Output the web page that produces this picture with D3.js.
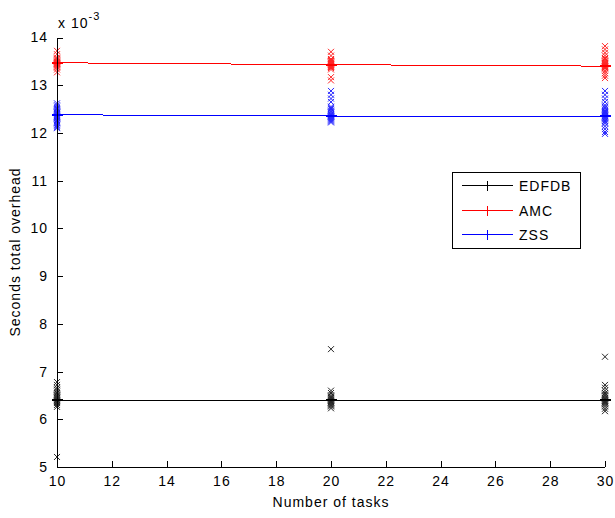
<!DOCTYPE html>
<html><head><meta charset="utf-8">
<script src="https://cdn.jsdelivr.net/npm/d3@7"></script>
<style>
html,body{margin:0;padding:0;background:#fff;}
text{font-family:"Liberation Sans",Arial,sans-serif;fill:#000;}
</style></head>
<body><svg id="chart" width="615" height="518"></svg>
<script>
const tasks = [10, 20, 30];
const seriesNames = ["EDFDB", "AMC", "ZSS"];
const seriesColors = ["#000000", "#ff0000", "#0000ff"];
const meanEDFDB = [6.40, 6.40, 6.40];
const meanAMC = [13.47, 13.43, 13.40];
const meanZSS = [12.38, 12.355, 12.35];
const errEDFDB = [0.01, 0.01, 0.01];
const errAMC = [0.01, 0.01, 0.01];
const errZSS = [0.01, 0.01, 0.01];
const runsEDFDB = [
  [6.78, 6.72, 6.66, 6.62, 6.58, 6.55, 6.52, 6.50, 6.48, 6.46, 6.44, 6.42, 6.40, 6.38, 6.36, 6.34, 6.30, 6.26, 5.21],
  [7.47, 6.60, 6.55, 6.50, 6.47, 6.45, 6.43, 6.41, 6.39, 6.38, 6.36, 6.35, 6.33, 6.31, 6.29, 6.27, 6.23],
  [7.31, 6.72, 6.66, 6.60, 6.55, 6.52, 6.50, 6.48, 6.45, 6.43, 6.41, 6.39, 6.38, 6.36, 6.35, 6.33, 6.31, 6.27, 6.22, 6.17]
];
const runsAMC = [
  [13.72, 13.65, 13.58, 13.56, 13.54, 13.52, 13.50, 13.49, 13.48, 13.47, 13.46, 13.45, 13.44, 13.43, 13.41, 13.39, 13.37, 13.33, 13.27],
  [13.70, 13.62, 13.55, 13.53, 13.51, 13.50, 13.48, 13.47, 13.46, 13.44, 13.43, 13.42, 13.40, 13.39, 13.38, 13.36, 13.33, 13.17, 13.10],
  [13.82, 13.75, 13.68, 13.62, 13.57, 13.55, 13.52, 13.50, 13.48, 13.46, 13.45, 13.43, 13.42, 13.40, 13.39, 13.38, 13.36, 13.35, 13.30, 13.25, 13.20, 13.15]
];
const runsZSS = [
  [12.62, 12.58, 12.55, 12.52, 12.50, 12.47, 12.45, 12.43, 12.42, 12.40, 12.38, 12.36, 12.34, 12.33, 12.31, 12.30, 12.27, 12.25, 12.22, 12.20, 12.17, 12.15, 12.12, 12.10],
  [12.88, 12.80, 12.72, 12.65, 12.55, 12.52, 12.50, 12.47, 12.45, 12.43, 12.40, 12.38, 12.37, 12.35, 12.34, 12.32, 12.30, 12.28, 12.26, 12.24, 12.22],
  [12.88, 12.80, 12.72, 12.65, 12.58, 12.55, 12.52, 12.49, 12.46, 12.44, 12.42, 12.40, 12.38, 12.36, 12.34, 12.32, 12.30, 12.28, 12.25, 12.22, 12.20, 12.14, 12.08, 12.02, 11.98]
];
const xTicks = [10, 12, 14, 16, 18, 20, 22, 24, 26, 28, 30];
const yTicks = [5, 6, 7, 8, 9, 10, 11, 12, 13, 14];
const xLabel = "Number of tasks";
const yLabel = "Seconds total overhead";

const series = [
  {name: seriesNames[0], color: seriesColors[0], mean: meanEDFDB, err: errEDFDB, runs: runsEDFDB},
  {name: seriesNames[1], color: seriesColors[1], mean: meanAMC, err: errAMC, runs: runsAMC},
  {name: seriesNames[2], color: seriesColors[2], mean: meanZSS, err: errZSS, runs: runsZSS}
];

const svg = d3.select("#chart");
const L = 57, R = 605, T = 37.5, B = 467;
const x = d3.scaleLinear().domain([10, 30]).range([L, R]);
const y = d3.scaleLinear().domain([5, 14]).range([B, T]);
const fontCss = "font-size:14px;letter-spacing:1px;";

// markers (individual runs)
series.forEach(s => {
  const g = svg.append("g").attr("stroke", s.color).attr("stroke-width", 1).attr("opacity", 0.85);
  s.runs.forEach((vals, i) => {
    vals.forEach(v => {
      const cx = x(tasks[i]), cy = y(v), r = 3;
      g.append("path").attr("fill", "none")
        .attr("d", `M${cx - r},${cy - r}L${cx + r},${cy + r}M${cx - r},${cy + r}L${cx + r},${cy - r}`);
    });
  });
});

// mean lines with error bars
series.forEach(s => {
  const g = svg.append("g").attr("stroke", s.color).attr("fill", "none").attr("stroke-width", 1)
    .attr("shape-rendering", "crispEdges");
  g.append("path").attr("d", d3.line().x((d, i) => x(tasks[i])).y(d => y(d))(s.mean));
  s.mean.forEach((m, i) => {
    const cx = x(tasks[i]), w = 5.5;
    g.append("line").attr("x1", cx).attr("x2", cx).attr("y1", y(m - s.err[i])).attr("y2", y(m + s.err[i]));
    g.append("line").attr("x1", cx - w).attr("x2", cx + w).attr("y1", y(m - s.err[i])).attr("y2", y(m - s.err[i]));
    g.append("line").attr("x1", cx - w).attr("x2", cx + w).attr("y1", y(m + s.err[i])).attr("y2", y(m + s.err[i]));
  });
});

// axes
const xAxis = d3.axisBottom(x).tickValues(xTicks).tickSizeInner(-6).tickSizeOuter(0).tickPadding(9).tickFormat(d3.format("d"));
const yAxis = d3.axisLeft(y).tickValues(yTicks).tickSizeInner(-6).tickSizeOuter(0).tickPadding(9).tickFormat(d3.format("d"));
const gx = svg.append("g").attr("transform", `translate(0,${B})`).call(xAxis);
const gy = svg.append("g").attr("transform", `translate(${L},0)`).call(yAxis);
[gx, gy].forEach(g => {
  g.selectAll("path,line").attr("stroke", "#000").attr("shape-rendering", "crispEdges");
  g.selectAll("text").attr("style", fontCss).attr("font-family", null);
});
gx.select(".domain").attr("d", `M${L},0H${R}`);
gy.select(".domain").attr("d", `M0,${B}V${T}`);

// exponent label
const ex = svg.append("text").attr("x", 58).attr("y", 28).attr("style", fontCss);
ex.append("tspan").text("x 10");
ex.append("tspan").attr("dy", -8).attr("style", "font-size:11px;").text("-3");

// axis labels
svg.append("text").attr("x", (L + R) / 2).attr("y", 507).attr("text-anchor", "middle").attr("style", fontCss).text(xLabel);
svg.append("text").attr("transform", "translate(20,252) rotate(-90)").attr("text-anchor", "middle").attr("style", fontCss).text(yLabel);

// legend
const lg = svg.append("g");
lg.append("rect").attr("x", 452.5).attr("y", 172.5).attr("width", 128).attr("height", 76)
  .attr("fill", "#fff").attr("stroke", "#000").attr("shape-rendering", "crispEdges");
const ly = d3.scalePoint().domain(seriesNames).range([185, 234]);
series.forEach(s => {
  const yy = Math.round(ly(s.name)) + 0.5;
  lg.append("line").attr("x1", 462).attr("x2", 513).attr("y1", yy).attr("y2", yy)
    .attr("stroke", s.color).attr("shape-rendering", "crispEdges");
  lg.append("line").attr("x1", 487.5).attr("x2", 487.5).attr("y1", yy - 5).attr("y2", yy + 5)
    .attr("stroke", s.color).attr("shape-rendering", "crispEdges");
  lg.append("text").attr("x", 519).attr("y", yy + 5).attr("style", fontCss).text(s.name);
});
</script></body></html>
